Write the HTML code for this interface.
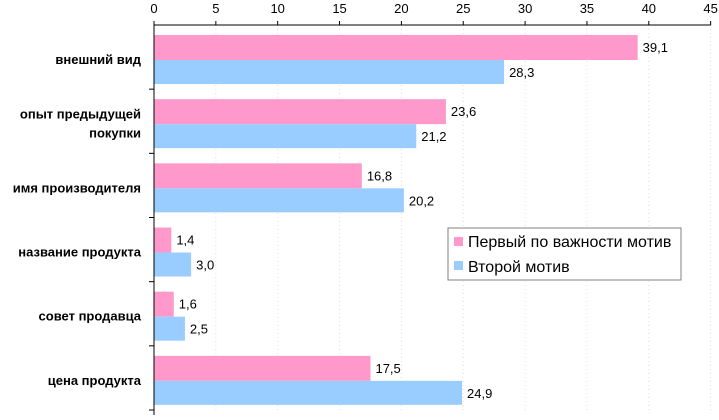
<!DOCTYPE html>
<html><head><meta charset="utf-8"><style>
body{margin:0;background:#fff}
text{font-family:"Liberation Sans",sans-serif;font-size:13px;fill:#000}
.lg{font-size:16px}
</style></head><body>
<svg id="c" width="719" height="415"></svg>
<script>
const categories=["внешний вид",["опыт предыдущей","покупки"],"имя производителя","название продукта","совет продавца","цена продукта"];
const firstMotive=[39.1,23.6,16.8,1.4,1.6,17.5];
const secondMotive=[28.3,21.2,20.2,3.0,2.5,24.9];
const ticks=[0,5,10,15,20,25,30,35,40,45];
const svg=document.getElementById('c');
const NS='http://www.w3.org/2000/svg';
const x0=154,pxu=12.37,plotTop=25,plotBottom=410,gh=(plotBottom-plotTop)/6;
const X=v=>x0+v*pxu;
function el(t,a,p){const e=document.createElementNS(NS,t);for(const k in a)e.setAttribute(k,a[k]);(p||svg).appendChild(e);return e;}
ticks.forEach(t=>{
 if(t>0){const g=el('line',{x1:X(t),x2:X(t),y1:plotTop,y2:plotBottom,stroke:'#ddd','stroke-dasharray':'1,3'});
 
 }
 const tk=el('line',{x1:X(t),x2:X(t),y1:plotTop-4,y2:plotTop,stroke:'#000'});
 
 
 const l=el('text',{x:X(t),y:13,'text-anchor':'middle'});l.textContent=String(t);
 
 
});
categories.forEach((c,i)=>{
 const gy=plotTop+i*gh;
 const b1=el('rect',{x:X(0),y:gy+10,width:X(firstMotive[i])-X(0),height:25,fill:'#ff99cc'});
 
 
 const b2=el('rect',{x:X(0),y:gy+35,width:X(secondMotive[i])-X(0),height:24,fill:'#99ccff'});
 
 
 const v1=el('text',{x:X(firstMotive[i])+5,y:gy+27});v1.textContent=firstMotive[i].toFixed(1).replace('.',',');
 
 
 const v2=el('text',{x:X(secondMotive[i])+5,y:gy+52});v2.textContent=secondMotive[i].toFixed(1).replace('.',',');
 
 
 const lines=Array.isArray(c)?c:[c];
 lines.forEach((s,j)=>{
  const t=el('text',{x:141,y:gy+39+(j-(lines.length-1)/2)*19,'text-anchor':'end','font-weight':'bold'});t.textContent=s;
  
  
 });
 const tk=el('line',{x1:x0-5,x2:x0,y1:gy+gh,y2:gy+gh,stroke:'#000'});
 
 
});
const ax=el('line',{x1:x0,x2:X(45),y1:plotTop,y2:plotTop,stroke:'#000'});


const ay=el('line',{x1:x0,x2:x0,y1:plotTop,y2:plotBottom+5,stroke:'#000'});


const lg=el('g',{});


el('rect',{x:448,y:228,width:233,height:52,fill:'#fff',stroke:'#808080','stroke-width':1},lg);
el('rect',{x:454,y:237,width:9,height:9,fill:'#ff99cc'},lg);
el('rect',{x:454,y:261,width:9,height:9,fill:'#99ccff'},lg);
const l1=el('text',{x:468,y:247,class:'lg'},lg);l1.textContent='Первый по важности мотив';
const l2=el('text',{x:468,y:272,class:'lg'},lg);l2.textContent='Второй мотив';
</script>
</body></html>
